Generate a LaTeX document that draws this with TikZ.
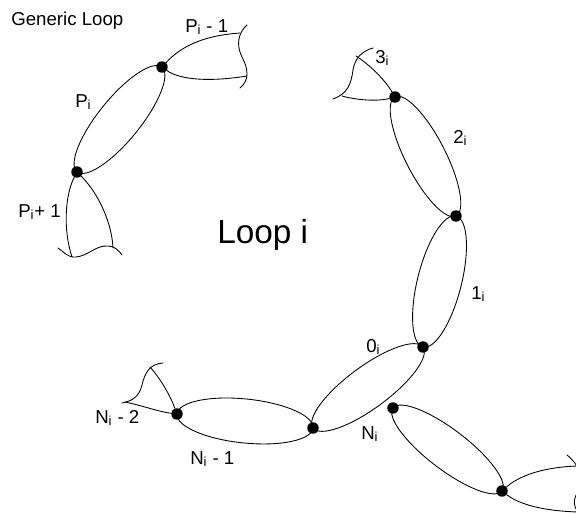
\documentclass[tikz,border=0pt]{standalone}
\usepackage{fontspec}
\setmainfont{Liberation Sans}
\usetikzlibrary{calc}

\tikzset{
  segline/.style={line width=0.65pt},
  junction/.style={circle,fill=black,inner sep=0pt,minimum size=8.6pt},
  lbl/.style={anchor=base west,inner sep=0pt,font=\fontsize{14}{16}\selectfont},
}

% one loop segment: an ellipse between two junctions
\newcommand\loopseg[3]{%
  \draw[segline] let \p1=($(#2)-(#1)$), \n1={atan2(\y1,\x1)}, \n2={veclen(\x1,\y1)/2} in
    [rotate around={\n1:($(#1)!0.5!(#2)$)}] ($(#1)!0.5!(#2)$) ellipse [x radius=\n2, y radius={#3*0.75pt}];
}

\begin{document}
\begin{tikzpicture}[x=0.75pt,y=-0.75pt,line cap=round]
\useasboundingbox (0,0) rectangle (576,514);
\clip (0,0) rectangle (576,514);

% junctions
\node[junction] (jPup) at (162,67) {};
\node[junction] (jPdn) at (77,172) {};
\node[junction] (j32) at (395,97) {};
\node[junction] (j21) at (456,216) {};
\node[junction] (j10) at (423,347) {};
\node[junction] (j0n) at (313,428) {};
\node[junction] (jnn) at (177,414) {};
\node[junction] (jN) at (393,408) {};
\node[junction] (jNe) at (502,491) {};

% whole segments
\loopseg{jPdn}{jPup}{21}
\loopseg{j32}{j21}{20}
\loopseg{j21}{j10}{22}
\loopseg{j10}{j0n}{21}
\loopseg{jnn}{j0n}{22}
\loopseg{jN}{jNe}{20}

% cut segments
\draw[segline] (jPup) .. controls (185,42) and (212,35) .. (240,33);
\draw[segline] (jPup) .. controls (180,80) and (210,82) .. (247,76);
\draw[segline] (247,25) .. controls (238,33) and (236,45) .. (242,57) .. controls (248,68) and (250,80) .. (240,88);

\draw[segline] (jPdn) .. controls (65,195) and (63,230) .. (72,257);
\draw[segline] (jPdn) .. controls (100,195) and (112,225) .. (113,248);
\draw[segline] (58,248) .. controls (64,252) and (68,258) .. (76,257) .. controls (88,256) and (96,245) .. (108,246) .. controls (115,246) and (119,251) .. (122,255);

\draw[segline] (j32) .. controls (385,80) and (370,65) .. (356,56);
\draw[segline] (j32) .. controls (380,101) and (360,101) .. (342,96);
\draw[segline] (373,48) .. controls (362,51) and (355,58) .. (353,70) .. controls (351,85) and (347,94) .. (333,99);

\draw[segline] (jnn) .. controls (170,395) and (160,378) .. (150,367);
\draw[segline] (jnn) .. controls (160,412) and (140,405) .. (125,402);
\draw[segline] (163,363) .. controls (150,364) and (145,372) .. (142,385) .. controls (139,397) and (132,401) .. (122,403);

\draw[segline] (jNe) .. controls (520,475) and (545,467) .. (578,466);
\draw[segline] (jNe) .. controls (520,505) and (545,511) .. (578,512);
\draw[segline] (567,455) .. controls (573,460) and (577,465) .. (580,472);
\draw[segline] (580,490) .. controls (574,495) and (572,505) .. (578,512);

% labels
\node[lbl] (generic) at (11,26) {Generic Loop};
\node[lbl] (pprev) at (185,32) {P\textsubscript{i} - 1};
\node[lbl] (pcur) at (75,107) {P\textsubscript{i}};
\node[lbl] (pnext) at (18,217) {P\textsubscript{i}+ 1};
\node[lbl] (l3) at (375,63) {3\textsubscript{i}};
\node[lbl] (l2) at (453,143) {2\textsubscript{i}};
\node[lbl] (l1) at (471,299) {1\textsubscript{i}};
\node[lbl] (l0) at (366,352) {0\textsubscript{i}};
\node[lbl] (lN) at (361,439) {N\textsubscript{i}};
\node[lbl] (lN2) at (95,423) {N\textsubscript{i} - 2};
\node[lbl] (lN1) at (190,464) {N\textsubscript{i} - 1};
\node[lbl,font=\fontsize{25}{30}\selectfont] (title) at (217,243) {Loop i};
\end{tikzpicture}
\end{document}
